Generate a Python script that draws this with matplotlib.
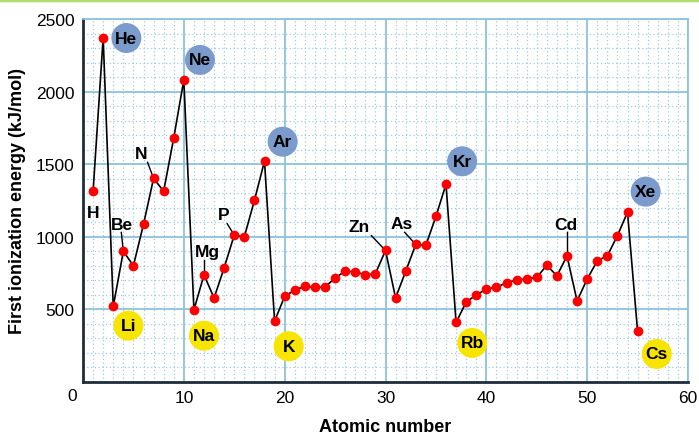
import matplotlib
matplotlib.use("Agg")
import matplotlib.pyplot as plt
from matplotlib.patches import Ellipse

plt.rcParams['font.family'] = ['Liberation Sans', 'DejaVu Sans']

# first ionization energies, Z = 1..55 (kJ/mol)
atomic_number = list(range(1, 56))
energy = [1312, 2372, 520, 900, 801, 1086, 1402, 1314, 1681, 2081,
          496, 738, 578, 787, 1012, 1000, 1251, 1521, 419, 590,
          633, 659, 651, 653, 717, 763, 760, 737, 746, 906,
          579, 762, 947, 941, 1140, 1362, 410, 550, 600, 640,
          652, 684, 702, 710, 720, 804, 731, 868, 558, 709,
          834, 869, 1008, 1169, 350]

# noble gases (blue) and alkali metals (yellow): name, label x, label y
noble = [("He", 4.3, 2369), ("Ne", 11.6, 2218), ("Ar", 19.8, 1655),
         ("Kr", 37.6, 1520), ("Xe", 55.8, 1311)]
alkali = [("Li", 4.5, 388), ("Na", 12.0, 319), ("K", 20.4, 246),
          ("Rb", 38.6, 269), ("Cs", 56.9, 193)]
# plain labels: name, label x, label y, leader start x, y, element Z
plain = [("H", 1.0, 1169, None, None, None),
         ("Be", 3.9, 1088, 3.8, 1030, 4),
         ("N", 5.8, 1575, 6.4, 1513, 7),
         ("Mg", 12.3, 897, 12.0, 838, 12),
         ("P", 14.0, 1157, 14.3, 1090, 15),
         ("Zn", 27.4, 1070, 28.6, 1008, 30),
         ("As", 31.6, 1093, 31.9, 1031, 33),
         ("Cd", 47.9, 1088, 48.0, 1031, 48)]

fig = plt.figure(figsize=(6.99, 4.35), dpi=100)
ax = fig.add_axes([83/699, 1-383/435, 605/699, 363/435])

ax.set_xlim(0, 60)
ax.set_ylim(0, 2500)

grid_major = '#8cc3dc'
grid_minor = '#9fcbe3'
ax.set_xticks(range(0, 61, 10))
ax.set_yticks(range(500, 2501, 500))
ax.set_xticks(range(0, 61, 1), minor=True)
ax.set_yticks(range(0, 2501, 100), minor=True)
ax.grid(which='minor', color=grid_minor, lw=0.9, ls=(0, (1, 2)))
ax.grid(which='major', color=grid_major, lw=1.3, ls='-')
ax.set_axisbelow(True)
ax.tick_params(which='both', length=0)
ax.tick_params(axis='both', labelsize=12.5, pad=6)
ax.set_xticklabels([''] + [str(v) for v in range(10, 61, 10)])

for s in ['top', 'right']:
    ax.spines[s].set_color(grid_major)
    ax.spines[s].set_linewidth(1.3)
for s in ['left', 'bottom']:
    ax.spines[s].set_color('#1e2d3c')
    ax.spines[s].set_linewidth(2)

fig.text(72/699, 1-397/435, '0', fontsize=12.5, ha='center', va='center')

ax.plot(atomic_number, energy, color='black', lw=1.2, zorder=3,
        marker='o', markersize=6, markerfacecolor='#ff0000',
        markeredgecolor='#ff0000')

# circle radius in data units (15 px)
rx = 15 / 605 * 60
ry = 15 / 363 * 2500
for name, x, y in noble:
    ax.add_patch(Ellipse((x, y), 2*rx, 2*ry, color='#7b9bcc', zorder=4, lw=0))
    ax.text(x, y, name, fontsize=12.5, fontweight='bold', ha='center',
            va='center', zorder=5)
for name, x, y in alkali:
    ax.add_patch(Ellipse((x, y), 2*rx, 2*ry, color='#f7e400', zorder=4, lw=0))
    ax.text(x, y, name, fontsize=12.5, fontweight='bold', ha='center',
            va='center', zorder=5)
for name, x, y, lx, ly, z in plain:
    ax.text(x, y, name, fontsize=12.5, fontweight='bold', ha='center',
            va='center', zorder=5)
    if z is not None:
        ax.plot([lx, z], [ly, energy[z-1]], color='black', lw=1, zorder=2)

ax.set_xlabel('Atomic number', fontsize=13, fontweight='bold', labelpad=9)
ax.set_ylabel('First ionization energy (kJ/mol)', fontsize=13,
              fontweight='bold', labelpad=7)

fig.add_artist(plt.Line2D([0, 1], [1-1/435, 1-1/435], color='#b0dc6a', lw=2.5))

fig.savefig('out.png', dpi=100)
